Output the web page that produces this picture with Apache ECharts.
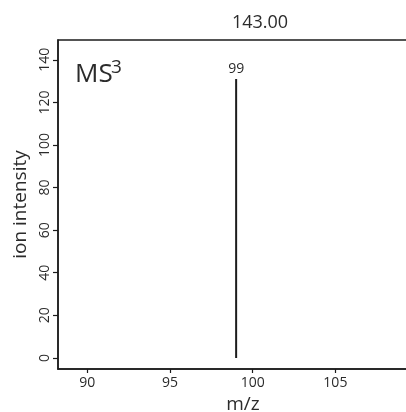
<!DOCTYPE html>
<html>
<head>
<meta charset="utf-8">
<script src="https://cdn.jsdelivr.net/npm/echarts@6/dist/echarts.min.js"></script>
<style>
  html, body { margin: 0; padding: 0; background: #fff; overflow: hidden; }
  /* the plot frame runs past the right edge of the window, as in the original */
  #chart { width: 430px; height: 412px; }
</style>
</head>
<body>
<div id="chart"></div>
<script>
// MS3 spectrum of precursor 143.00
var precursor = '143.00';
var msLevel = '3';
var peakMz = [99];
var peakIntensity = [131];
var peakLabels = ['99'];
var xTicks = [90, 95, 100, 105];
var yTicks = [0, 20, 40, 60, 80, 100, 120, 140];

var font = 'Open Sans';
var textColor = '#2b2b2b';
var lineColor = '#1c1c1c';

var myChart = echarts.init(document.getElementById('chart'));

var peaks = peakMz.map(function (mz, i) {
    return { value: [mz, peakIntensity[i]], label: { formatter: peakLabels[i] } };
});

var option = {
    animation: false,
    title: {
        text: precursor,
        left: 255,
        top: 9,
        textAlign: 'center',
        textStyle: { fontFamily: font, fontSize: 18, fontWeight: 'normal', color: textColor }
    },
    grid: {
        left: 58,
        top: 40,
        right: 2,
        bottom: 43,
        outerBoundsMode: 'none',
        containLabel: false,
        show: true,
        borderColor: lineColor,
        borderWidth: 1.5
    },
    xAxis: {
        type: 'value',
        min: 88.23,
        max: 110.6,
        name: 'm/z',
        nameLocation: 'middle',
        nameGap: 25,
        nameTextStyle: { fontFamily: font, fontSize: 19, color: textColor },
        axisLine: { show: true, onZero: false, lineStyle: { color: lineColor, width: 1.5 } },
        axisTick: { show: true, length: 4, customValues: xTicks, lineStyle: { color: lineColor, width: 1.2 } },
        axisLabel: { customValues: xTicks, margin: 7, fontFamily: font, fontSize: 14, color: textColor },
        splitLine: { show: false }
    },
    yAxis: {
        type: 'value',
        min: -5.2,
        max: 149.3,
        name: 'ion intensity',
        nameLocation: 'middle',
        nameGap: 28,
        nameTextStyle: { fontFamily: font, fontSize: 19, color: textColor },
        axisLine: { show: true, onZero: false, lineStyle: { color: lineColor, width: 1.5 } },
        axisTick: { show: true, length: 5, customValues: yTicks, lineStyle: { color: lineColor, width: 1.2 } },
        axisLabel: { customValues: yTicks, rotate: 90, margin: 6, fontFamily: font, fontSize: 14, color: textColor },
        splitLine: { show: false }
    },
    graphic: [
        {
            type: 'text', left: 75, top: 62,
            style: { text: 'MS', fontFamily: font, fontSize: 26, fill: textColor }
        },
        {
            type: 'text', left: 111, top: 58,
            style: { text: msLevel, fontFamily: font, fontSize: 19, fill: textColor }
        }
    ],
    series: [
        {
            type: 'bar',
            data: peaks,
            barWidth: 2,
            itemStyle: { color: lineColor },
            label: {
                show: true,
                position: 'top',
                distance: 3,
                fontFamily: font,
                fontSize: 14,
                color: textColor
            }
        }
    ]
};

myChart.setOption(option);
</script>
</body>
</html>
